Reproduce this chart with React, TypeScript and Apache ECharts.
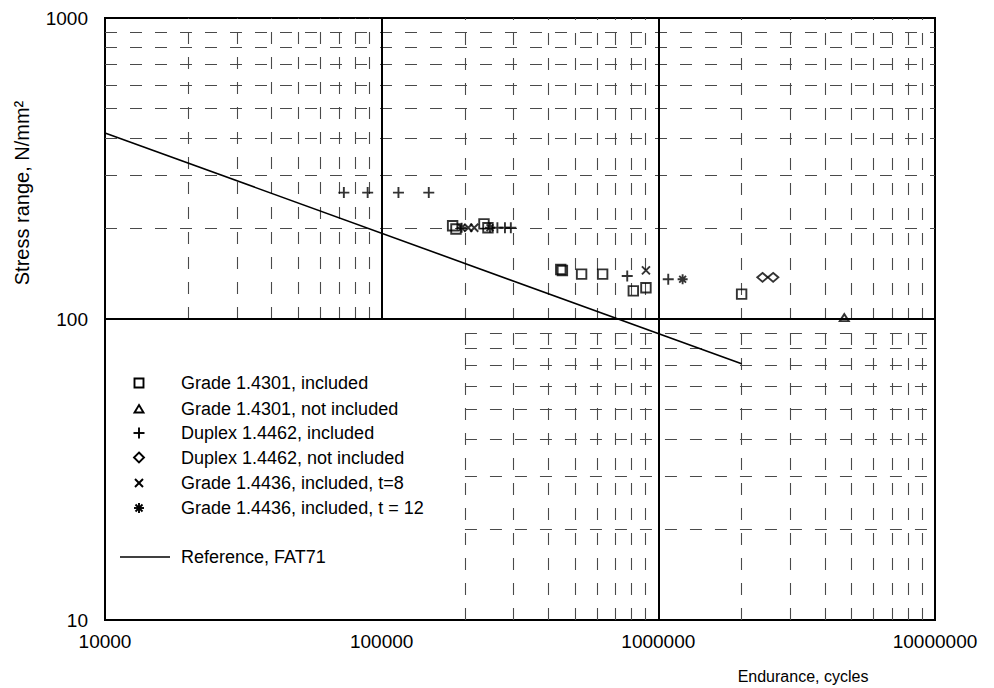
import React, { useEffect, useRef } from "react";
import * as echarts from "echarts";

// ---- data ----
const grade4301Included: [number, number][] = [
  [180500, 204], [185600, 199], [234300, 207], [242200, 201],
  [444000, 146], [450000, 145], [528000, 141], [629000, 141],
  [812000, 124], [902000, 127], [2000000, 121],
];
const grade4301NotIncluded: [number, number][] = [[4700000, 101]];
const duplexIncluded: [number, number][] = [
  [73000, 263], [89000, 263], [115000, 263], [148000, 263],
  [262000, 201], [279000, 201], [293000, 201],
  [772000, 139], [1086000, 135.5],
];
const duplexNotIncluded: [number, number][] = [[2380000, 137.5], [2600000, 137.5]];
const grade4436t8: [number, number][] = [[205600, 201], [216100, 201], [902000, 145]];
const grade4436t12: [number, number][] = [[194600, 201], [246300, 201], [1224000, 135.5]];
const fat71X = [10000, 2000000];
const fat71Y = [415, 71];

const xTicks = [10000, 100000, 1000000, 10000000];
const yTicks = [10, 100, 1000];
const xMinorUpper = [20000, 30000, 40000, 50000, 60000, 70000, 80000, 90000];
const xMinorFull = [200000, 300000, 400000, 500000, 600000, 700000, 800000, 900000,
  2000000, 3000000, 4000000, 5000000, 6000000, 7000000, 8000000, 9000000];
const yMinorFull = [200, 300, 400, 500, 600, 700, 800, 900];
const yMinorLower = [20, 30, 40, 50, 60, 70, 80, 90];

const seriesNames = [
  "Grade 1.4301, included",
  "Grade 1.4301, not included",
  "Duplex 1.4462, included",
  "Duplex 1.4462, not included",
  "Grade 1.4436, included, t=8",
  "Grade 1.4436, included, t = 12",
];
const refName = "Reference, FAT71";

const FONT = "'Liberation Sans', Arial, Helvetica, sans-serif";

const SYM_SQUARE = "path://M0,0 L10,0 L10,10 L0,10 Z";
const SYM_TRI = "path://M5,0 L10,8.66 L0,8.66 Z";
const SYM_PLUS = "path://M5,0 L5,10 M0,5 L10,5";
const SYM_DIAMOND = "path://M5,0 L10,5 L5,10 L0,5 Z";
const SYM_X = "path://M0,0 L10,10 M10,0 L0,10";
const SYM_STAR = "path://M5,0 L5,10 M0,5 L10,5 M1.6,1.6 L8.4,8.4 M8.4,1.6 L1.6,8.4";

export default function App() {
  const ref = useRef<HTMLDivElement>(null);

  useEffect(() => {
    document.body.style.margin = "0";
    if (!ref.current) return;
    const chart = echarts.init(ref.current, null, { renderer: "svg" });

    const X0 = xTicks[0], X1 = xTicks[xTicks.length - 1];
    const Y0 = yTicks[0], Y1 = yTicks[yTicks.length - 1];

    const dashedLines: any[] = [];
    xMinorUpper.forEach((x) => dashedLines.push({ coords: [[x, 100], [x, Y1]] }));
    xMinorFull.forEach((x) => dashedLines.push({ coords: [[x, Y0], [x, Y1]] }));
    yMinorFull.forEach((y) => dashedLines.push({ coords: [[X0, y], [X1, y]] }));
    yMinorLower.forEach((y) => dashedLines.push({ coords: [[200000, y], [X1, y]] }));

    const solidLines = [
      { coords: [[100000, 100], [100000, Y1]] },
      { coords: [[1000000, Y0], [1000000, Y1]] },
      { coords: [[X0, 100], [X1, 100]] },
    ];

    const markerStyle = { color: "transparent", borderColor: "#000", borderWidth: 1.9 };
    const scat = (name: string, data: any, symbol: string, size: any) => ({
      name, type: "scatter", data, symbol, symbolSize: size,
      itemStyle: markerStyle, z: 5, silent: true,
    });

    // legend (graphic)
    const lx = 139, tx = 181;
    const rows = [383, 409, 433, 457.5, 483, 508];
    const lineStyle = { stroke: "#000", lineWidth: 1.9, fill: "none" };
    const legendEls: any[] = [];
    const icons: any[] = [
      { type: "rect", shape: { x: lx - 4.5, y: rows[0] - 4.5, width: 9, height: 9 }, style: lineStyle },
      { type: "polygon", shape: { points: [[lx, rows[1] - 4], [lx + 4.5, rows[1] + 3.5], [lx - 4.5, rows[1] + 3.5]] }, style: lineStyle },
      { type: "group", children: [
        { type: "line", shape: { x1: lx - 5.5, y1: rows[2], x2: lx + 5.5, y2: rows[2] }, style: lineStyle },
        { type: "line", shape: { x1: lx, y1: rows[2] - 5.5, x2: lx, y2: rows[2] + 5.5 }, style: lineStyle },
      ] },
      { type: "polygon", shape: { points: [[lx, rows[3] - 5], [lx + 5, rows[3]], [lx, rows[3] + 5], [lx - 5, rows[3]]] }, style: lineStyle },
      { type: "group", children: [
        { type: "line", shape: { x1: lx - 4, y1: rows[4] - 4, x2: lx + 4, y2: rows[4] + 4 }, style: lineStyle },
        { type: "line", shape: { x1: lx + 4, y1: rows[4] - 4, x2: lx - 4, y2: rows[4] + 4 }, style: lineStyle },
      ] },
      { type: "group", children: [
        { type: "line", shape: { x1: lx - 5, y1: rows[5], x2: lx + 5, y2: rows[5] }, style: lineStyle },
        { type: "line", shape: { x1: lx, y1: rows[5] - 5, x2: lx, y2: rows[5] + 5 }, style: lineStyle },
        { type: "line", shape: { x1: lx - 3.5, y1: rows[5] - 3.5, x2: lx + 3.5, y2: rows[5] + 3.5 }, style: lineStyle },
        { type: "line", shape: { x1: lx + 3.5, y1: rows[5] - 3.5, x2: lx - 3.5, y2: rows[5] + 3.5 }, style: lineStyle },
      ] },
    ];
    icons.forEach((ic) => legendEls.push(ic));
    seriesNames.forEach((n, i) =>
      legendEls.push({
        type: "text", x: tx, y: rows[i],
        style: { text: n, fontSize: 18, fontFamily: FONT, fill: "#000", align: "left", verticalAlign: "middle" },
      })
    );
    legendEls.push({ type: "line", shape: { x1: 120, y1: 557, x2: 170, y2: 557 }, style: { stroke: "#000", lineWidth: 1.6 } });
    legendEls.push({
      type: "text", x: tx, y: 557,
      style: { text: refName, fontSize: 18, fontFamily: FONT, fill: "#000", align: "left", verticalAlign: "middle" },
    });

    const option: any = {
      animation: false,
      backgroundColor: "#fff",
      grid: { left: 105, right: 59, top: 18, bottom: 68, show: true, borderColor: "#000", borderWidth: 2, backgroundColor: "transparent" },
      xAxis: {
        type: "log", logBase: 10, min: X0, max: X1,
        axisLine: { show: true, lineStyle: { color: "#000", width: 2 } },
        axisTick: { show: false },
        splitLine: { show: false },
        axisLabel: {
          color: "#000", fontSize: 19, fontFamily: FONT, margin: 12,
          formatter: (v: number) => String(Math.round(v)),
        },
      },
      yAxis: {
        type: "log", logBase: 10, min: Y0, max: Y1,
        axisLine: { show: true, lineStyle: { color: "#000", width: 2 } },
        axisTick: { show: false },
        splitLine: { show: false },
        axisLabel: {
          color: "#000", fontSize: 19, fontFamily: FONT, margin: 17,
          formatter: (v: number) => String(Math.round(v)),
        },
      },
      graphic: [
        {
          type: "text", x: 22, y: 193, rotation: Math.PI / 2,
          style: { text: "Stress range, N/mm²", fontSize: 20, fontFamily: FONT, fill: "#000", align: "center", verticalAlign: "middle" },
        },
        {
          type: "text", x: 803, y: 676,
          style: { text: "Endurance, cycles", fontSize: 16, fontFamily: FONT, fill: "#000", align: "center", verticalAlign: "middle" },
        },
        ...legendEls,
      ],
      series: [
        {
          name: "minor grid", type: "lines", coordinateSystem: "cartesian2d", polyline: false,
          data: dashedLines, silent: true, z: 1,
          lineStyle: { color: "#4a4a4a", width: 1.1, type: [12, 13], opacity: 1 },
        },
        {
          name: "major grid", type: "lines", coordinateSystem: "cartesian2d", polyline: false,
          data: solidLines, silent: true, z: 2,
          lineStyle: { color: "#000", width: 2, type: "solid", opacity: 1 },
        },
        {
          name: refName, type: "line", data: fat71X.map((x, i) => [x, fat71Y[i]]),
          showSymbol: false, symbol: "none", lineStyle: { color: "#000", width: 1.6 }, z: 4, silent: true,
        },
        scat(seriesNames[0], grade4301Included, SYM_SQUARE, 9.5),
        scat(seriesNames[1], grade4301NotIncluded, SYM_TRI, [9, 7]),
        scat(seriesNames[2], duplexIncluded, SYM_PLUS, 11),
        scat(seriesNames[3], duplexNotIncluded, SYM_DIAMOND, [10.5, 9]),
        scat(seriesNames[4], grade4436t8, SYM_X, 8),
        scat(seriesNames[5], grade4436t12, SYM_STAR, 10),
      ],
    };
    chart.setOption(option);
    return () => chart.dispose();
  }, []);

  return <div ref={ref} style={{ width: 994, height: 688 }} />;
}
